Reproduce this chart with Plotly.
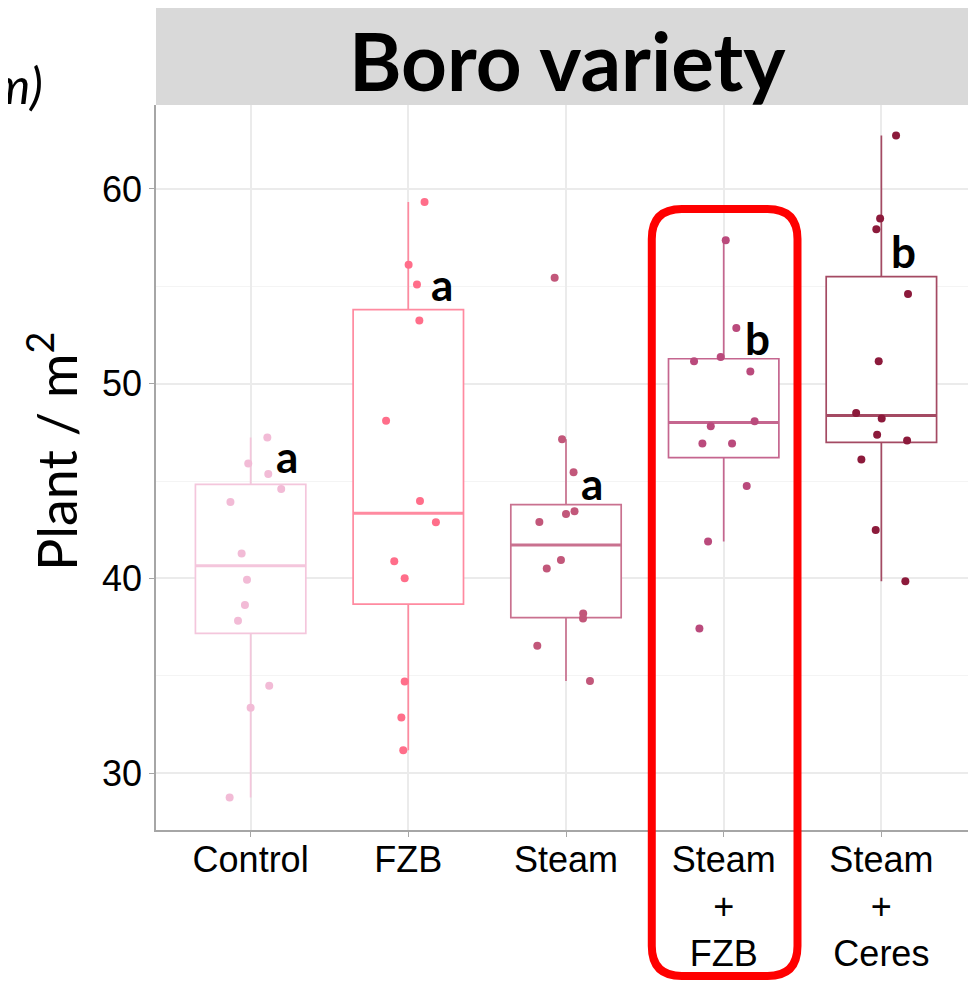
import plotly.graph_objects as go

# ---------------------------------------------------------------------------
# Data
# ---------------------------------------------------------------------------

treatments = ["Control", "FZB", "Steam", "Steam<br>+<br>FZB", "Steam<br>+<br>Ceres"]
colors = ["#F2BBD6", "#FF6E8A", "#C2577A", "#BA4A7C", "#8C1A3B"]
box_colors = ["#F4C6DC", "#FF8AA0", "#C9718F", "#C5668F", "#A44A63"]

plants_control = [47.24, 45.90, 45.36, 44.59, 43.92, 41.28, 39.93, 38.63, 37.83, 34.49, 33.36, 28.75]
plants_fzb = [59.33, 56.11, 55.09, 53.25, 48.10, 43.98, 42.88, 40.88, 40.01, 34.71, 32.86, 31.18]
plants_steam = [55.44, 47.15, 45.45, 43.45, 43.31, 42.89, 40.94, 40.51, 38.20, 37.94, 36.54, 34.73]
plants_steam_fzb = [57.36, 52.86, 51.15, 51.37, 50.63, 48.07, 47.81, 46.93, 46.93, 44.74, 41.90, 37.43]
plants_steam_ceres = [62.75, 58.48, 57.93, 54.60, 51.15, 48.50, 48.21, 47.38, 47.08, 46.10, 42.48, 39.86]

# horizontal jitter of each dot (category units)
jitter_control = [0.106, -0.015, 0.112, 0.194, -0.128, -0.057, -0.023, -0.036, -0.080, 0.118, 0.0, -0.133]
jitter_fzb = [0.103, 0.002, 0.055, 0.070, -0.141, 0.074, 0.175, -0.089, -0.023, -0.023, -0.044, -0.032]
jitter_steam = [-0.072, -0.025, 0.048, 0.054, 0.0, -0.169, -0.032, -0.122, 0.109, 0.108, -0.182, 0.152]
jitter_steam_fzb = [0.013, 0.080, -0.188, -0.019, 0.169, 0.196, -0.082, -0.135, 0.053, 0.146, -0.099, -0.154]
jitter_steam_ceres = [0.093, -0.008, -0.032, 0.169, -0.017, -0.160, 0.002, -0.027, 0.163, -0.127, -0.036, 0.152]

# box statistics
q1 = [37.18, 38.68, 37.99, 46.20, 46.99]
median = [40.65, 43.35, 41.71, 48.00, 48.36]
q3 = [44.83, 53.80, 43.79, 51.28, 55.50]
lower_fence = [28.75, 31.18, 34.73, 41.90, 39.86]
upper_fence = [47.24, 59.33, 47.15, 57.36, 62.75]

# significance letters
sig_letters = ["a", "a", "a", "b", "b"]
letter_y = [46.3, 55.1, 44.9, 52.35, 56.8]
letter_dx = [0.23, 0.215, 0.165, 0.215, 0.14]

groups = [plants_control, plants_fzb, plants_steam, plants_steam_fzb, plants_steam_ceres]
jitters = [jitter_control, jitter_fzb, jitter_steam, jitter_steam_fzb, jitter_steam_ceres]

# ---------------------------------------------------------------------------
# Geometry (page has an 8px body margin, so the figure is nudged up/left)
# ---------------------------------------------------------------------------

X_RANGE = [-0.6, 4.6]
Y_RANGE = [27.08, 64.31]
BOX_W = 0.7
PLOT_W, PLOT_H = 820, 725
PLOT_LEFT, PLOT_BOTTOM = 156, 830   # page pixels


def px(x):
    return (x - X_RANGE[0]) / (X_RANGE[1] - X_RANGE[0])


def py(y):
    return (y - Y_RANGE[0]) / (Y_RANGE[1] - Y_RANGE[0])


def page_x(p):
    return (p - PLOT_LEFT) / PLOT_W


def page_y(p):
    return (PLOT_BOTTOM - p) / PLOT_H


fig = go.Figure()

for i in range(len(treatments)):
    fig.add_trace(go.Box(
        x=[i],
        q1=[q1[i]],
        median=[median[i]],
        q3=[q3[i]],
        lowerfence=[lower_fence[i]],
        upperfence=[upper_fence[i]],
        width=BOX_W,
        whiskerwidth=0,
        boxpoints=False,
        fillcolor="white",
        line=dict(color=box_colors[i], width=1.7),
        showlegend=False,
        hoverinfo="skip",
    ))
    # thicker median bar, as in ggplot
    fig.add_trace(go.Scatter(
        x=[i - BOX_W / 2, i + BOX_W / 2],
        y=[median[i], median[i]],
        mode="lines",
        line=dict(color=box_colors[i], width=3),
        showlegend=False,
        hoverinfo="skip",
    ))

for i, vals in enumerate(groups):
    fig.add_trace(go.Scatter(
        x=[i + d for d in jitters[i]],
        y=vals,
        mode="markers",
        marker=dict(size=8, color=colors[i]),
        showlegend=False,
        name=treatments[i].replace("<br>", " "),
    ))

# letters
for i, lab in enumerate(sig_letters):
    fig.add_annotation(
        x=i + letter_dx[i], y=letter_y[i], text=f"<b>{lab}</b>",
        showarrow=False, font=dict(family="Lato", size=44, color="black"),
        xanchor="center", yanchor="middle",
    )

# facet strip
fig.add_shape(type="rect", xref="paper", yref="paper",
              x0=0, x1=1.02, y0=1, y1=page_y(5),
              fillcolor="#D9D9D9", line=dict(width=0), layer="below")
fig.add_annotation(
    xref="paper", yref="paper", x=page_x(567), y=page_y(60),
    text="<b>Boro variety</b>", showarrow=False,
    font=dict(family="Lato", size=80, color="black"),
    xanchor="center", yanchor="middle",
)

# y axis title
fig.add_annotation(
    xref="paper", yref="paper", x=page_x(53), y=page_y(452),
    text="Plant / m<sup>2</sup>", showarrow=False, textangle=-90,
    font=dict(family="Lato", size=54, color="black"),
    xanchor="center", yanchor="middle",
)

# partially cut label at top-left
fig.add_annotation(
    xref="paper", yref="paper", x=page_x(45), y=page_y(85),
    text="<i>m)</i>", showarrow=False,
    font=dict(family="Lato", size=50, color="black"),
    xanchor="right", yanchor="middle",
)

# red highlight around Steam + FZB
x0, x1 = px(3 - 0.456), px(3 + 0.468)
y0, y1 = py(19.58), py(58.97)
rx, ry = 30 / PLOT_W, 30 / PLOT_H
path = (
    f"M {x0 + rx},{y1} L {x1 - rx},{y1} Q {x1},{y1} {x1},{y1 - ry} "
    f"L {x1},{y0 + ry} Q {x1},{y0} {x1 - rx},{y0} "
    f"L {x0 + rx},{y0} Q {x0},{y0} {x0},{y0 + ry} "
    f"L {x0},{y1 - ry} Q {x0},{y1} {x0 + rx},{y1} Z"
)
fig.add_shape(type="path", xref="paper", yref="paper", path=path,
              line=dict(color="#FF0000", width=8), layer="above")

fig.update_layout(
    width=976,
    height=983,
    margin=dict(l=PLOT_LEFT - 8, r=976 - (PLOT_LEFT - 8) - PLOT_W,
                t=PLOT_BOTTOM - PLOT_H - 8, b=983 - (PLOT_BOTTOM - 8)),
    plot_bgcolor="white",
    paper_bgcolor="white",
    font=dict(family="Liberation Sans", color="black"),
    xaxis=dict(
        range=X_RANGE,
        tickvals=list(range(len(treatments))),
        ticktext=treatments,
        tickfont=dict(size=36, color="black"),
        showgrid=True, gridcolor="#EBEBEB", gridwidth=1.5,
        showline=True, linecolor="#A6A6A6", linewidth=1.5,
        ticks="outside", ticklen=5, tickcolor="#A6A6A6",
        ticklabelstandoff=-8,
        zeroline=False,
    ),
    yaxis=dict(
        range=Y_RANGE,
        tickvals=[30, 40, 50, 60],
        tickfont=dict(size=36, color="black"),
        showgrid=True, gridcolor="#EBEBEB", gridwidth=1.5,
        minor=dict(tickvals=[35, 45, 55], showgrid=True, gridcolor="#F4F4F4", gridwidth=1),
        showline=True, linecolor="#A6A6A6", linewidth=1.5,
        ticks="outside", ticklen=5, tickcolor="#A6A6A6",
        zeroline=False,
    ),
)

fig.write_html("out.html")
